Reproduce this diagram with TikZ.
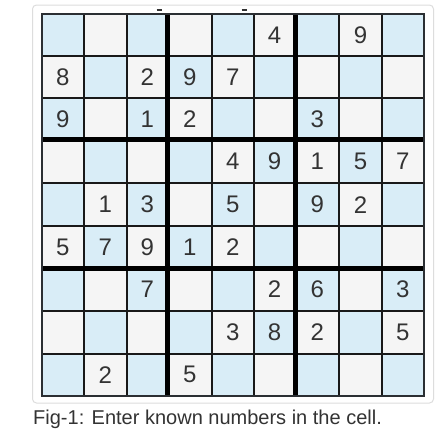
\documentclass[tikz,border=0pt]{standalone}
\usepackage{fontspec}
\setmainfont{Liberation Sans}
\definecolor{cellblue}{HTML}{D9EDF7}
\definecolor{cellgray}{HTML}{F5F5F5}
\definecolor{framegray}{HTML}{DDDDDD}
\definecolor{ink}{HTML}{333333}
\definecolor{edgeink}{HTML}{2B2F33}
\begin{document}
\begin{tikzpicture}[x=1pt,y=-1pt,
  digit/.style={font=\fontsize{24}{24}\selectfont, text=ink, inner sep=0pt, anchor=center},
  thinline/.style={line width=2pt, black!90},
  thickline/.style={line width=5pt, black},
  outerline/.style={line width=2pt, edgeink},
  framebox/.style={draw=framegray, line width=1pt, rounded corners=4pt, fill=white},
  captiontext/.style={font=\fontsize{20}{20}\selectfont, text=ink, inner sep=0pt, anchor=base west},
  tickmark/.style={line width=1.3pt, ink}]
\def\xs{{41.7,84,126.6,167.8,212,253.5,295.5,339,382,423.8}}
\def\ys{{14,55.7,98.3,139.3,183.3,226,268,310.7,354,395.5}}
\useasboundingbox (0,0) rectangle (440,437);
\fill[white] (0,0) rectangle (440,437);
\draw[framebox] (32.5,5) rectangle (433.5,403);
% cells
\foreach \r in {0,...,8}{
  \foreach \c in {0,...,8}{
    \pgfmathsetmacro\xa{\xs[\c]}
    \pgfmathsetmacro\xb{\xs[\c+1]}
    \pgfmathsetmacro\ya{\ys[\r]}
    \pgfmathsetmacro\yb{\ys[\r+1]}
    \pgfmathparse{mod(\r+\c,2)==0 ? "cellblue" : "cellgray"}
    \edef\cc{\pgfmathresult}
    \fill[\cc] (\xa,\ya) rectangle (\xb,\yb);
    \coordinate (c-\r-\c) at ({(\xa+\xb)/2},{(\ya+\yb)/2});
  }
}
% thin lines
\foreach \i in {1,2,4,5,7,8}{
  \pgfmathsetmacro\xx{\xs[\i]}
  \pgfmathsetmacro\yy{\ys[\i]}
  \draw[thinline] (\xx,14) -- (\xx,395.5);
  \draw[thinline] (41.7,\yy) -- (423.8,\yy);
}
% thick lines
\foreach \i in {3,6}{
  \pgfmathsetmacro\xx{\xs[\i]}
  \pgfmathsetmacro\yy{\ys[\i]}
  \draw[thickline] (\xx,14) -- (\xx,395.5);
  \draw[thickline] (41.7,\yy) -- (423.8,\yy);
}
\draw[outerline] (41.7,14) rectangle (423.8,395.5);
% digits
\foreach \r/\c/\v in {0/5/4, 0/7/9,
  1/0/8, 1/2/2, 1/3/9, 1/4/7,
  2/0/9, 2/2/1, 2/3/2, 2/6/3,
  3/4/4, 3/5/9, 3/6/1, 3/7/5, 3/8/7,
  4/1/1, 4/2/3, 4/4/5, 4/6/9, 4/7/2,
  5/0/5, 5/1/7, 5/2/9, 5/3/1, 5/4/2,
  6/2/7, 6/5/2, 6/6/6, 6/8/3,
  7/4/3, 7/5/8, 7/6/2, 7/8/5,
  8/1/2, 8/3/5}{
  \node[digit] (n-\r-\c) at (c-\r-\c) {\v};
}
% small marks above the grid
\coordinate (m1a) at (156.5,10);
\coordinate (m1b) at (161.5,10);
\coordinate (m2a) at (241.5,10);
\coordinate (m2b) at (246.5,10);
\draw[tickmark] (m1a) -- (m1b);
\draw[tickmark] (m2a) -- (m2b);
\node[captiontext] (caption) at (33,424.7) {Fig-1: Enter known numbers in the cell.};
\end{tikzpicture}
\end{document}
